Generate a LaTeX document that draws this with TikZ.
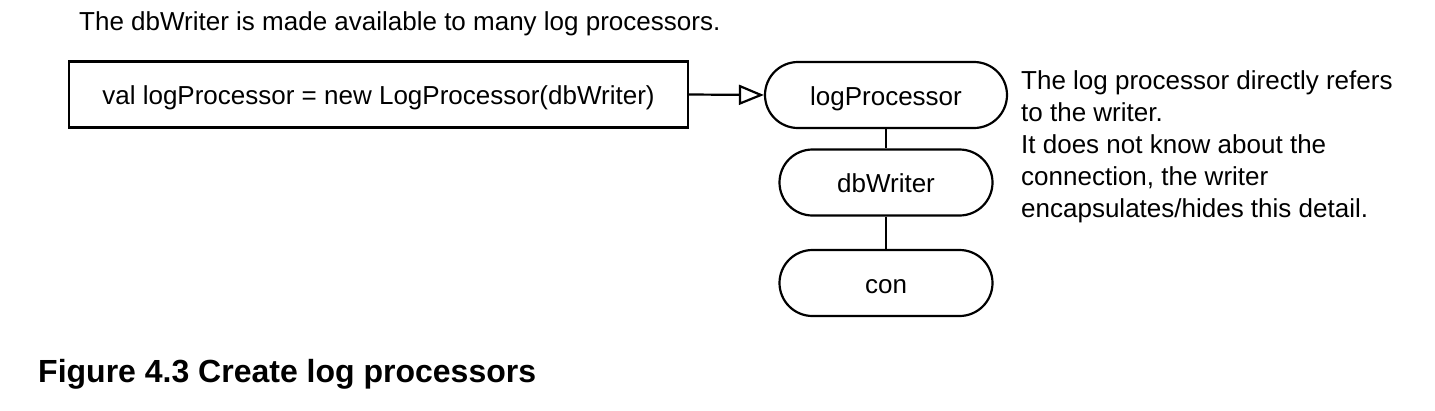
\documentclass[tikz,border=0pt]{standalone}
\usepackage{fontspec}
\setmainfont{Liberation Sans}
\usetikzlibrary{arrows.meta}
\begin{document}
\begin{tikzpicture}[x=1pt,y=-1pt,
  txt/.style={font=\fontsize{26}{32}\selectfont, inner sep=0pt},
  boxtext/.style={font=\fontsize{26}{32}\selectfont, text height=20pt, text depth=0pt, inner sep=0pt},
  codebox/.style={boxtext, draw, line width=2.2pt, minimum width=619pt, minimum height=66pt},
  objbox/.style={boxtext, draw, line width=2.2pt, rounded corners=33pt, minimum height=66pt},
  link/.style={line width=2.2pt},
  refarrow/.style={line width=2.2pt, -{Triangle[open, length=25pt, width=20pt, line width=2.2pt]}}
]
\useasboundingbox (0,0) rectangle (1435,410);
\node[txt, anchor=base west] (title) at (79,30) {The dbWriter is made available to many log processors.};
\node[codebox] (code) at (378.5,94.5) {val logProcessor = new LogProcessor(dbWriter)};
\node[objbox, minimum width=242pt] (lp) at (886,95) {logProcessor};
\node[objbox, minimum width=213pt] (dw) at (886,182.5) {dbWriter};
\node[objbox, minimum width=213pt] (con) at (886,283) {con};
\draw[refarrow] (code.east) -- (lp.west);
\draw[link] (lp.south) -- (dw.north);
\draw[link] (dw.south) -- (con.north);
\node[txt, anchor=north west, align=left] (note) at (1021,70) {The log processor directly refers\\to the writer.\\It does not know about the\\connection, the writer\\encapsulates/hides this detail.};
\node[anchor=base west, inner sep=0pt, font=\fontsize{32}{38}\selectfont\bfseries] (caption) at (38,382) {Figure 4.3 Create log processors};
\end{tikzpicture}
\end{document}
